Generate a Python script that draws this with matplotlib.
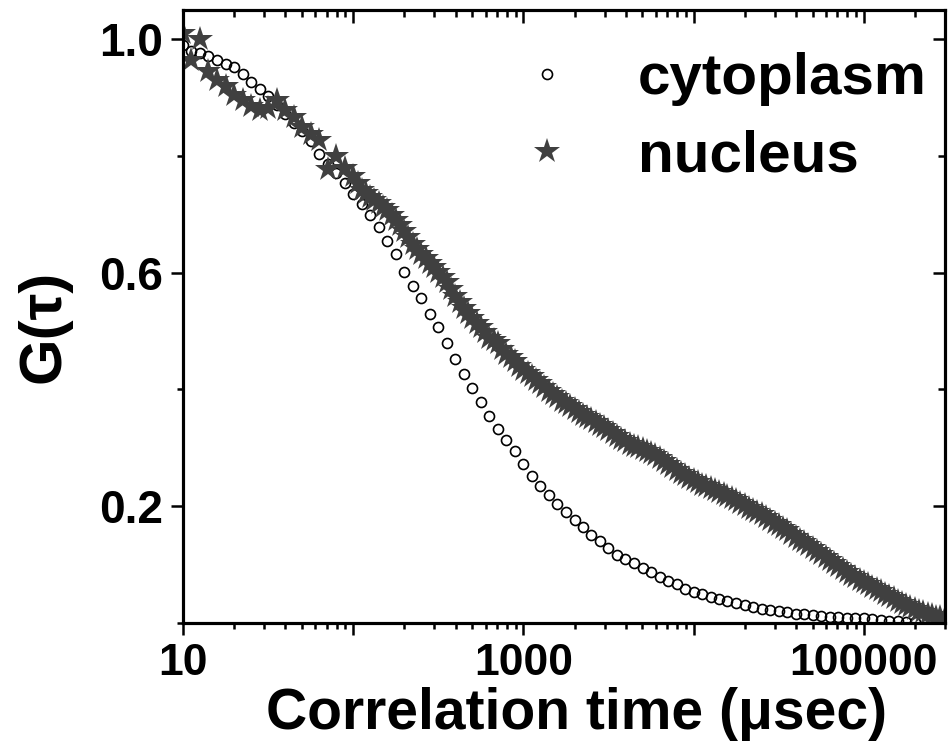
import matplotlib
matplotlib.use("Agg")
import matplotlib.pyplot as plt
from matplotlib.ticker import FixedLocator, LogLocator, NullFormatter
from matplotlib.font_manager import FontProperties

# ---------------- data ----------------
# lag times (microseconds) of the correlator channels
lag_us = [10.0, 11.2, 12.6, 14.1, 15.8, 17.8, 20.0, 22.4, 25.1, 28.2,
          31.6, 35.5, 39.8, 44.7, 50.1, 56.2, 63.1, 70.8, 79.4, 89.1,
          100, 112, 126, 141, 158, 178, 200, 224, 251, 282,
          316, 355, 398, 447, 501, 562, 631, 708, 794, 891,
          1000, 1120, 1260, 1410, 1580, 1780, 2000, 2240, 2510, 2820,
          3160, 3550, 3980, 4470, 5010, 5620, 6310, 7080, 7940, 8910,
          10000, 11200, 12600, 14100, 15800, 17800, 20000, 22400, 25100, 28200,
          31600, 35500, 39800, 44700, 50100, 56200, 63100, 70800, 79400, 89100,
          100000, 112000, 126000, 141000, 158000, 178000, 200000, 224000, 251000, 282000]

g_cytoplasm = [0.990, 0.980, 0.976, 0.971, 0.965, 0.957, 0.953, 0.940, 0.926, 0.915,
               0.902, 0.888, 0.872, 0.857, 0.842, 0.826, 0.803, 0.786, 0.770, 0.753,
               0.735, 0.717, 0.699, 0.678, 0.655, 0.632, 0.601, 0.578, 0.556, 0.530,
               0.507, 0.479, 0.452, 0.427, 0.403, 0.378, 0.355, 0.333, 0.313, 0.294,
               0.273, 0.252, 0.234, 0.219, 0.204, 0.190, 0.176, 0.165, 0.151, 0.140,
               0.129, 0.117, 0.109, 0.102, 0.095, 0.087, 0.078, 0.072, 0.066, 0.059,
               0.053, 0.049, 0.045, 0.041, 0.037, 0.034, 0.030, 0.027, 0.024, 0.022,
               0.020, 0.018, 0.016, 0.015, 0.014, 0.012, 0.011, 0.010, 0.009, 0.009,
               0.008, 0.006, 0.005, 0.004, 0.003, 0.002, 0.001]

g_nucleus = [1.010, 0.965, 1.000, 0.945, 0.930, 0.920, 0.905, 0.895, 0.885, 0.878,
             0.882, 0.895, 0.878, 0.866, 0.850, 0.838, 0.828, 0.777, 0.800, 0.780,
             0.765, 0.742, 0.730, 0.720, 0.707, 0.690, 0.672, 0.650, 0.632, 0.617,
             0.601, 0.584, 0.560, 0.540, 0.522, 0.507, 0.489, 0.479, 0.461, 0.449,
             0.434, 0.423, 0.411, 0.398, 0.387, 0.376, 0.366, 0.357, 0.349, 0.340,
             0.330, 0.320, 0.311, 0.304, 0.298, 0.291, 0.283, 0.273, 0.262, 0.253,
             0.245, 0.237, 0.231, 0.224, 0.218, 0.211, 0.202, 0.193, 0.186, 0.177,
             0.168, 0.159, 0.148, 0.138, 0.128, 0.118, 0.108, 0.098, 0.087, 0.078,
             0.070, 0.062, 0.054, 0.046, 0.038, 0.031, 0.024, 0.018, 0.013, 0.010]

# additional (interleaved) nucleus channels
lag_us_nucleus_extra = [106, 119, 133, 150, 168, 188, 211, 237, 266, 299,
                        335, 376, 422, 473, 531, 596, 668, 750, 841, 944,
                        1060, 1190, 1330, 1500, 1680, 1880, 2110, 2370, 2660, 2990,
                        3350, 3760, 4220, 4730, 5310, 5960, 6680, 7500, 8410, 9440,
                        10600, 11900, 13300, 15000, 16800, 18800, 21100, 23700, 26600, 29900,
                        33500, 37600, 42200, 47300, 53100, 59600, 66800, 75000, 84100, 94400,
                        106000, 119000, 133000, 150000, 168000, 188000, 211000, 237000, 266000, 299000]

g_nucleus_extra = [0.753, 0.736, 0.725, 0.713, 0.699, 0.681, 0.661, 0.641, 0.625, 0.609,
                   0.592, 0.572, 0.550, 0.531, 0.514, 0.498, 0.484, 0.470, 0.455, 0.441,
                   0.428, 0.417, 0.404, 0.392, 0.381, 0.371, 0.361, 0.353, 0.344, 0.335,
                   0.325, 0.315, 0.307, 0.301, 0.294, 0.287, 0.278, 0.267, 0.257, 0.249,
                   0.241, 0.234, 0.227, 0.221, 0.214, 0.206, 0.197, 0.190, 0.181, 0.172,
                   0.163, 0.153, 0.143, 0.133, 0.123, 0.113, 0.103, 0.092, 0.082, 0.074,
                   0.066, 0.058, 0.050, 0.042, 0.034, 0.027, 0.021, 0.015, 0.011, 0.009]

series_labels = ["cytoplasm", "nucleus"]
x_major = [10, 100, 1000, 10000, 100000]
x_major_labels = ["10", "", "1000", "", "100000"]
y_major = [0.2, 0.6, 1.0]
y_major_labels = ["0.2", "0.6", "1.0"]
y_minor = [0.0, 0.4, 0.8]
x_limits = (10, 3.0e5)
y_limits = (0.0, 1.05)

# ---------------- style ----------------
plt.rcParams["font.family"] = ["Liberation Sans", "DejaVu Sans"]

fig = plt.figure(figsize=(9.49, 7.53), dpi=100)
W, H = 949, 753
L, R, T, B = 183, 945, 10, 623
ax = fig.add_axes([L / W, 1 - B / H, (R - L) / W, (B - T) / H])

n = len(g_cytoplasm)
ax.plot(lag_us[:n], g_cytoplasm, linestyle="none", marker="o", markersize=7.2,
        markerfacecolor="none", markeredgecolor="black", markeredgewidth=1.2,
        label=series_labels[0], zorder=2)
ax.plot(lag_us + lag_us_nucleus_extra, g_nucleus + g_nucleus_extra, linestyle="none",
        marker="*", markersize=19,
        markerfacecolor="#404040", markeredgecolor="#404040", markeredgewidth=0,
        label=series_labels[1], zorder=3)

ax.set_xscale("log")
ax.set_xlim(*x_limits)
ax.set_ylim(*y_limits)

ax.xaxis.set_major_locator(FixedLocator(x_major))
ax.set_xticklabels(x_major_labels)
ax.xaxis.set_minor_locator(LogLocator(base=10, subs=[2, 3, 4, 5, 6, 7, 8, 9], numticks=20))
ax.xaxis.set_minor_formatter(NullFormatter())
ax.set_yticks(y_major)
ax.set_yticklabels(y_major_labels)
ax.set_yticks(y_minor, minor=True)

for s in ax.spines.values():
    s.set_linewidth(2.2)

xfont = FontProperties(family="Liberation Sans", weight="bold", size=32)
yfont = FontProperties(family="Liberation Sans", weight="bold", size=33)
ax.tick_params(axis="both", which="major", direction="out", length=8.5, width=1.8)
ax.tick_params(axis="both", which="minor", direction="out", length=4.5, width=1.8)
ax.tick_params(axis="x", which="major", pad=6)
ax.tick_params(axis="y", which="major", pad=6)
for lab in ax.get_xticklabels():
    lab.set_fontproperties(xfont)
for lab in ax.get_yticklabels():
    lab.set_fontproperties(yfont)

# top / right inward ticks
axT = ax.twiny()
axT.set_xscale("log")
axT.set_xlim(*x_limits)
axT.xaxis.set_major_locator(FixedLocator(x_major))
axT.xaxis.set_minor_locator(LogLocator(base=10, subs=[2, 3, 4, 5, 6, 7, 8, 9], numticks=20))
axT.tick_params(axis="x", which="major", direction="in", length=9, width=1.8, labeltop=False)
axT.tick_params(axis="x", which="minor", direction="in", length=5, width=1.8, labeltop=False)
axT.xaxis.set_minor_formatter(NullFormatter())

axR = ax.twinx()
axR.set_ylim(*y_limits)
axR.set_yticks(y_major)
axR.set_yticks(y_minor, minor=True)
axR.tick_params(axis="y", which="major", direction="in", length=9, width=1.8, labelright=False)
axR.tick_params(axis="y", which="minor", direction="in", length=5, width=1.8, labelright=False)
for a in (axT, axR):
    for s in a.spines.values():
        s.set_linewidth(2.2)

ax.set_xlabel("Correlation time (μsec)",
              fontproperties=FontProperties(family="Liberation Sans", weight="bold", size=41))
ax.set_ylabel("G(τ)", fontproperties=FontProperties(family="Liberation Sans", weight="bold", size=43))
ax.xaxis.set_label_coords(0.516, -0.104)
ax.yaxis.set_label_coords(-0.146, 0.484)

lfont = FontProperties(family="Liberation Sans", weight="bold", size=42)
leg = axR.legend(*ax.get_legend_handles_labels(), loc="upper left",
                 bbox_to_anchor=(518 / W, 1 - 52 / H), bbox_transform=fig.transFigure,
                 prop=lfont, frameon=False, borderpad=0, borderaxespad=0, numpoints=1,
                 handlelength=1.0, handletextpad=1.06, labelspacing=0.41)

fig.savefig("out.png", dpi=100)
